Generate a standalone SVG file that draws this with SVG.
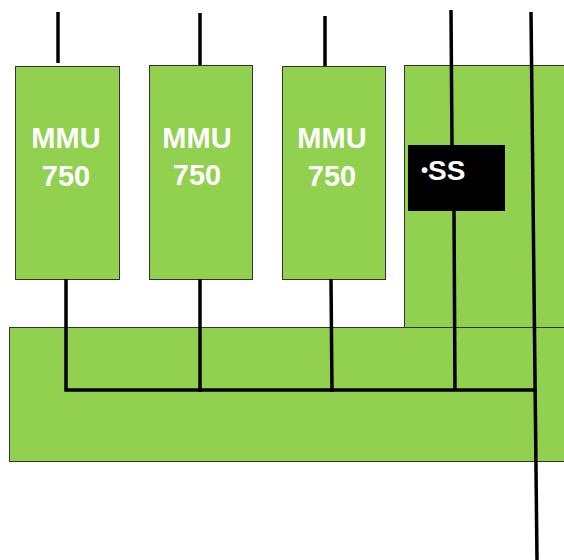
<svg xmlns="http://www.w3.org/2000/svg" width="564" height="560" viewBox="0 0 564 560">
<style>
.box{fill:#92D050;stroke:#333;stroke-width:1}
.lbl{font-family:"Liberation Sans",Arial,sans-serif;font-weight:bold;font-size:29px;fill:#fff;text-anchor:middle}
.w{stroke:#000;stroke-width:3.5;fill:none;stroke-linecap:butt}
</style>
<rect width="564" height="560" fill="#fff"/>
<g id="rack-right"><rect class="box" x="404.5" y="65.5" width="170" height="262"/></g>
<g id="base"><rect class="box" x="9.5" y="327.5" width="565" height="134"/></g>
<g id="mmu1"><rect class="box" x="15.5" y="66.5" width="104" height="213"/>
<text class="lbl" x="66" y="148">MMU</text><text class="lbl" x="66" y="186">750</text></g>
<g id="mmu2"><rect class="box" x="149.5" y="65.5" width="103" height="214"/>
<text class="lbl" x="197" y="148">MMU</text><text class="lbl" x="197" y="185">750</text></g>
<g id="mmu3"><rect class="box" x="282.5" y="66.5" width="103" height="213"/>
<text class="lbl" x="332" y="148">MMU</text><text class="lbl" x="332" y="186">750</text></g>
<g id="connectors">
<line class="w" x1="58" y1="12" x2="58" y2="63"/>
<line class="w" x1="200" y1="13" x2="200" y2="65"/>
<line class="w" x1="325" y1="16" x2="325" y2="66"/>
<line class="w" x1="451" y1="10" x2="452" y2="145"/>
<line class="w" x1="531" y1="12" x2="537" y2="560"/>
<polyline class="w" points="66,279 66,390 535,390"/>
<line class="w" x1="200" y1="279" x2="200" y2="392"/>
<line class="w" x1="331" y1="279" x2="332" y2="392"/>
<line class="w" x1="454" y1="211" x2="455" y2="390"/>
</g>
<g id="ss"><rect x="408" y="145" width="97" height="66" fill="#000"/>
<text x="421" y="180" font-family="'Liberation Sans',Arial,sans-serif" font-weight="bold" font-size="28" fill="#fff"><tspan font-size="20" dy="-3">•</tspan><tspan dy="3">SS</tspan></text></g>
</svg>
